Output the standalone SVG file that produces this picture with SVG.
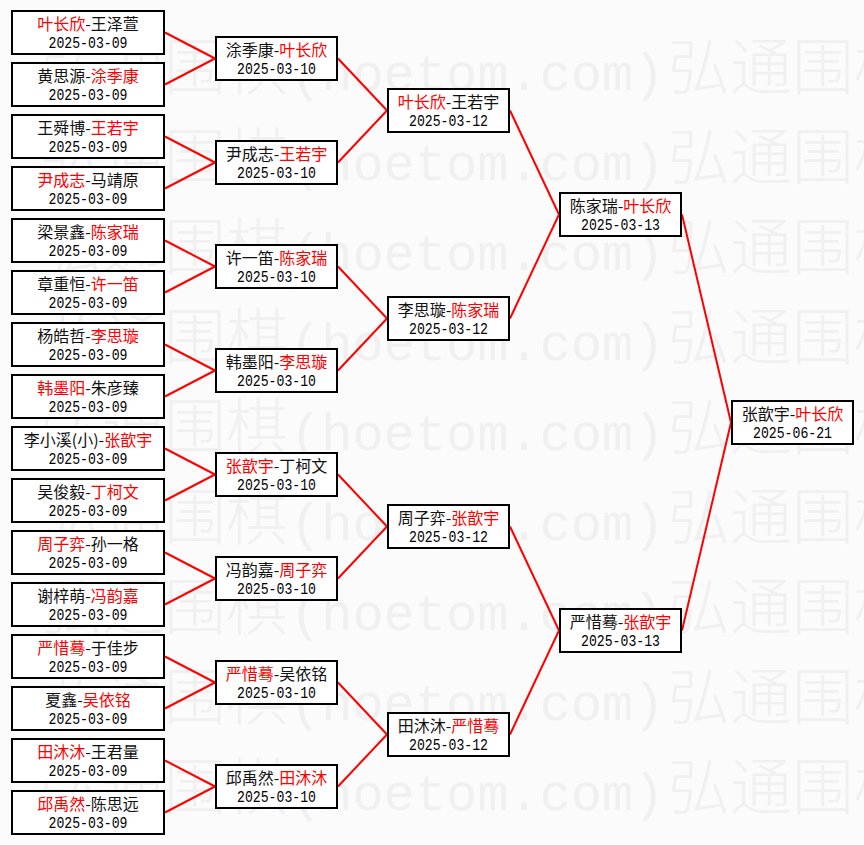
<svg xmlns="http://www.w3.org/2000/svg" xmlns:xlink="http://www.w3.org/1999/xlink" width="864" height="845" viewBox="0 0 864 845">
<style>
.bg{fill:#fbfbfb}
.wm{fill:#f0f0f0;font-family:"Noto Sans CJK SC","Noto Sans CJK JP",sans-serif;font-size:62px;font-weight:300}
.wl{font-family:"Liberation Mono",monospace;font-size:52px}
.box{fill:#ffffff;stroke:#000000;stroke-width:2}
.n{font-family:"Noto Sans CJK SC","Noto Sans CJK JP",sans-serif;font-size:16px;fill:#111111;text-anchor:middle}
.d{font-family:"Liberation Mono","DejaVu Sans Mono",monospace;font-size:16.5px;fill:#000000;text-anchor:middle}
.w{fill:#ff0000}
.c line{stroke:#ff0000;stroke-width:2;fill:none}
</style>
<defs>
<text id="wmrow" class="wm" y="0"><tspan x="40">弘通围棋</tspan><tspan x="290" class="wl">(hoetom.com)</tspan><tspan x="668">弘通围棋</tspan></text>
<rect id="b1" class="box" x="1" y="1" width="152" height="43"/>
<rect id="b2" class="box" x="1" y="1" width="121" height="43"/>
</defs>
<rect class="bg" x="0" y="0" width="864" height="845"/>
<g id="watermark">
<use xlink:href="#wmrow" y="90"/>
<use xlink:href="#wmrow" y="180"/>
<use xlink:href="#wmrow" y="270"/>
<use xlink:href="#wmrow" y="360"/>
<use xlink:href="#wmrow" y="450"/>
<use xlink:href="#wmrow" y="540"/>
<use xlink:href="#wmrow" y="630"/>
<use xlink:href="#wmrow" y="720"/>
<use xlink:href="#wmrow" y="810"/>
</g>
<g id="connectors" class="c">
<line x1="165" y1="32.5" x2="215" y2="58.5"/>
<line x1="165" y1="84.5" x2="215" y2="58.5"/>
<line x1="165" y1="136.5" x2="215" y2="162.5"/>
<line x1="165" y1="188.5" x2="215" y2="162.5"/>
<line x1="165" y1="240.5" x2="215" y2="266.5"/>
<line x1="165" y1="292.5" x2="215" y2="266.5"/>
<line x1="165" y1="344.5" x2="215" y2="370.5"/>
<line x1="165" y1="396.5" x2="215" y2="370.5"/>
<line x1="165" y1="448.5" x2="215" y2="474.5"/>
<line x1="165" y1="500.5" x2="215" y2="474.5"/>
<line x1="165" y1="552.5" x2="215" y2="578.5"/>
<line x1="165" y1="604.5" x2="215" y2="578.5"/>
<line x1="165" y1="656.5" x2="215" y2="682.5"/>
<line x1="165" y1="708.5" x2="215" y2="682.5"/>
<line x1="165" y1="760.5" x2="215" y2="786.5"/>
<line x1="165" y1="812.5" x2="215" y2="786.5"/>
<line x1="338" y1="58.5" x2="387" y2="110.5"/>
<line x1="338" y1="162.5" x2="387" y2="110.5"/>
<line x1="338" y1="266.5" x2="387" y2="318.5"/>
<line x1="338" y1="370.5" x2="387" y2="318.5"/>
<line x1="338" y1="474.5" x2="387" y2="526.5"/>
<line x1="338" y1="578.5" x2="387" y2="526.5"/>
<line x1="338" y1="682.5" x2="387" y2="734.5"/>
<line x1="338" y1="786.5" x2="387" y2="734.5"/>
<line x1="510" y1="110.5" x2="559" y2="214.5"/>
<line x1="510" y1="318.5" x2="559" y2="214.5"/>
<line x1="510" y1="526.5" x2="559" y2="630.5"/>
<line x1="510" y1="734.5" x2="559" y2="630.5"/>
<line x1="682" y1="214.5" x2="731" y2="422.5"/>
<line x1="682" y1="630.5" x2="731" y2="422.5"/>
</g>
<g id="r1-0" transform="translate(11,10)"><use xlink:href="#b1"/><text class="n" x="77" y="20"><tspan class="w">叶长欣</tspan>-王泽萱</text><text class="d" x="77" y="38" textLength="79" lengthAdjust="spacingAndGlyphs">2025-03-09</text></g>
<g id="r1-1" transform="translate(11,62)"><use xlink:href="#b1"/><text class="n" x="77" y="20">黄思源-<tspan class="w">涂季康</tspan></text><text class="d" x="77" y="38" textLength="79" lengthAdjust="spacingAndGlyphs">2025-03-09</text></g>
<g id="r1-2" transform="translate(11,114)"><use xlink:href="#b1"/><text class="n" x="77" y="20">王舜博-<tspan class="w">王若宇</tspan></text><text class="d" x="77" y="38" textLength="79" lengthAdjust="spacingAndGlyphs">2025-03-09</text></g>
<g id="r1-3" transform="translate(11,166)"><use xlink:href="#b1"/><text class="n" x="77" y="20"><tspan class="w">尹成志</tspan>-马靖原</text><text class="d" x="77" y="38" textLength="79" lengthAdjust="spacingAndGlyphs">2025-03-09</text></g>
<g id="r1-4" transform="translate(11,218)"><use xlink:href="#b1"/><text class="n" x="77" y="20">梁景鑫-<tspan class="w">陈家瑞</tspan></text><text class="d" x="77" y="38" textLength="79" lengthAdjust="spacingAndGlyphs">2025-03-09</text></g>
<g id="r1-5" transform="translate(11,270)"><use xlink:href="#b1"/><text class="n" x="77" y="20">章重恒-<tspan class="w">许一笛</tspan></text><text class="d" x="77" y="38" textLength="79" lengthAdjust="spacingAndGlyphs">2025-03-09</text></g>
<g id="r1-6" transform="translate(11,322)"><use xlink:href="#b1"/><text class="n" x="77" y="20">杨皓哲-<tspan class="w">李思璇</tspan></text><text class="d" x="77" y="38" textLength="79" lengthAdjust="spacingAndGlyphs">2025-03-09</text></g>
<g id="r1-7" transform="translate(11,374)"><use xlink:href="#b1"/><text class="n" x="77" y="20"><tspan class="w">韩墨阳</tspan>-朱彦臻</text><text class="d" x="77" y="38" textLength="79" lengthAdjust="spacingAndGlyphs">2025-03-09</text></g>
<g id="r1-8" transform="translate(11,426)"><use xlink:href="#b1"/><text class="n" x="77" y="20">李小溪(小)-<tspan class="w">张歆宇</tspan></text><text class="d" x="77" y="38" textLength="79" lengthAdjust="spacingAndGlyphs">2025-03-09</text></g>
<g id="r1-9" transform="translate(11,478)"><use xlink:href="#b1"/><text class="n" x="77" y="20">吴俊毅-<tspan class="w">丁柯文</tspan></text><text class="d" x="77" y="38" textLength="79" lengthAdjust="spacingAndGlyphs">2025-03-09</text></g>
<g id="r1-10" transform="translate(11,530)"><use xlink:href="#b1"/><text class="n" x="77" y="20"><tspan class="w">周子弈</tspan>-孙一格</text><text class="d" x="77" y="38" textLength="79" lengthAdjust="spacingAndGlyphs">2025-03-09</text></g>
<g id="r1-11" transform="translate(11,582)"><use xlink:href="#b1"/><text class="n" x="77" y="20">谢梓萌-<tspan class="w">冯韵嘉</tspan></text><text class="d" x="77" y="38" textLength="79" lengthAdjust="spacingAndGlyphs">2025-03-09</text></g>
<g id="r1-12" transform="translate(11,634)"><use xlink:href="#b1"/><text class="n" x="77" y="20"><tspan class="w">严惜蓦</tspan>-于佳步</text><text class="d" x="77" y="38" textLength="79" lengthAdjust="spacingAndGlyphs">2025-03-09</text></g>
<g id="r1-13" transform="translate(11,686)"><use xlink:href="#b1"/><text class="n" x="77" y="20">夏鑫-<tspan class="w">吴依铭</tspan></text><text class="d" x="77" y="38" textLength="79" lengthAdjust="spacingAndGlyphs">2025-03-09</text></g>
<g id="r1-14" transform="translate(11,738)"><use xlink:href="#b1"/><text class="n" x="77" y="20"><tspan class="w">田沐沐</tspan>-王君量</text><text class="d" x="77" y="38" textLength="79" lengthAdjust="spacingAndGlyphs">2025-03-09</text></g>
<g id="r1-15" transform="translate(11,790)"><use xlink:href="#b1"/><text class="n" x="77" y="20"><tspan class="w">邱禹然</tspan>-陈思远</text><text class="d" x="77" y="38" textLength="79" lengthAdjust="spacingAndGlyphs">2025-03-09</text></g>
<g id="r2-0" transform="translate(215,36)"><use xlink:href="#b2"/><text class="n" x="61.5" y="20">涂季康-<tspan class="w">叶长欣</tspan></text><text class="d" x="61.5" y="38" textLength="79" lengthAdjust="spacingAndGlyphs">2025-03-10</text></g>
<g id="r2-1" transform="translate(215,140)"><use xlink:href="#b2"/><text class="n" x="61.5" y="20">尹成志-<tspan class="w">王若宇</tspan></text><text class="d" x="61.5" y="38" textLength="79" lengthAdjust="spacingAndGlyphs">2025-03-10</text></g>
<g id="r2-2" transform="translate(215,244)"><use xlink:href="#b2"/><text class="n" x="61.5" y="20">许一笛-<tspan class="w">陈家瑞</tspan></text><text class="d" x="61.5" y="38" textLength="79" lengthAdjust="spacingAndGlyphs">2025-03-10</text></g>
<g id="r2-3" transform="translate(215,348)"><use xlink:href="#b2"/><text class="n" x="61.5" y="20">韩墨阳-<tspan class="w">李思璇</tspan></text><text class="d" x="61.5" y="38" textLength="79" lengthAdjust="spacingAndGlyphs">2025-03-10</text></g>
<g id="r2-4" transform="translate(215,452)"><use xlink:href="#b2"/><text class="n" x="61.5" y="20"><tspan class="w">张歆宇</tspan>-丁柯文</text><text class="d" x="61.5" y="38" textLength="79" lengthAdjust="spacingAndGlyphs">2025-03-10</text></g>
<g id="r2-5" transform="translate(215,556)"><use xlink:href="#b2"/><text class="n" x="61.5" y="20">冯韵嘉-<tspan class="w">周子弈</tspan></text><text class="d" x="61.5" y="38" textLength="79" lengthAdjust="spacingAndGlyphs">2025-03-10</text></g>
<g id="r2-6" transform="translate(215,660)"><use xlink:href="#b2"/><text class="n" x="61.5" y="20"><tspan class="w">严惜蓦</tspan>-吴依铭</text><text class="d" x="61.5" y="38" textLength="79" lengthAdjust="spacingAndGlyphs">2025-03-10</text></g>
<g id="r2-7" transform="translate(215,764)"><use xlink:href="#b2"/><text class="n" x="61.5" y="20">邱禹然-<tspan class="w">田沐沐</tspan></text><text class="d" x="61.5" y="38" textLength="79" lengthAdjust="spacingAndGlyphs">2025-03-10</text></g>
<g id="r3-0" transform="translate(387,88)"><use xlink:href="#b2"/><text class="n" x="61.5" y="20"><tspan class="w">叶长欣</tspan>-王若宇</text><text class="d" x="61.5" y="38" textLength="79" lengthAdjust="spacingAndGlyphs">2025-03-12</text></g>
<g id="r3-1" transform="translate(387,296)"><use xlink:href="#b2"/><text class="n" x="61.5" y="20">李思璇-<tspan class="w">陈家瑞</tspan></text><text class="d" x="61.5" y="38" textLength="79" lengthAdjust="spacingAndGlyphs">2025-03-12</text></g>
<g id="r3-2" transform="translate(387,504)"><use xlink:href="#b2"/><text class="n" x="61.5" y="20">周子弈-<tspan class="w">张歆宇</tspan></text><text class="d" x="61.5" y="38" textLength="79" lengthAdjust="spacingAndGlyphs">2025-03-12</text></g>
<g id="r3-3" transform="translate(387,712)"><use xlink:href="#b2"/><text class="n" x="61.5" y="20">田沐沐-<tspan class="w">严惜蓦</tspan></text><text class="d" x="61.5" y="38" textLength="79" lengthAdjust="spacingAndGlyphs">2025-03-12</text></g>
<g id="r4-0" transform="translate(559,192)"><use xlink:href="#b2"/><text class="n" x="61.5" y="20">陈家瑞-<tspan class="w">叶长欣</tspan></text><text class="d" x="61.5" y="38" textLength="79" lengthAdjust="spacingAndGlyphs">2025-03-13</text></g>
<g id="r4-1" transform="translate(559,608)"><use xlink:href="#b2"/><text class="n" x="61.5" y="20">严惜蓦-<tspan class="w">张歆宇</tspan></text><text class="d" x="61.5" y="38" textLength="79" lengthAdjust="spacingAndGlyphs">2025-03-13</text></g>
<g id="final" transform="translate(731,400)"><use xlink:href="#b2"/><text class="n" x="61.5" y="20">张歆宇-<tspan class="w">叶长欣</tspan></text><text class="d" x="61.5" y="38" textLength="79" lengthAdjust="spacingAndGlyphs">2025-06-21</text></g>
</svg>
